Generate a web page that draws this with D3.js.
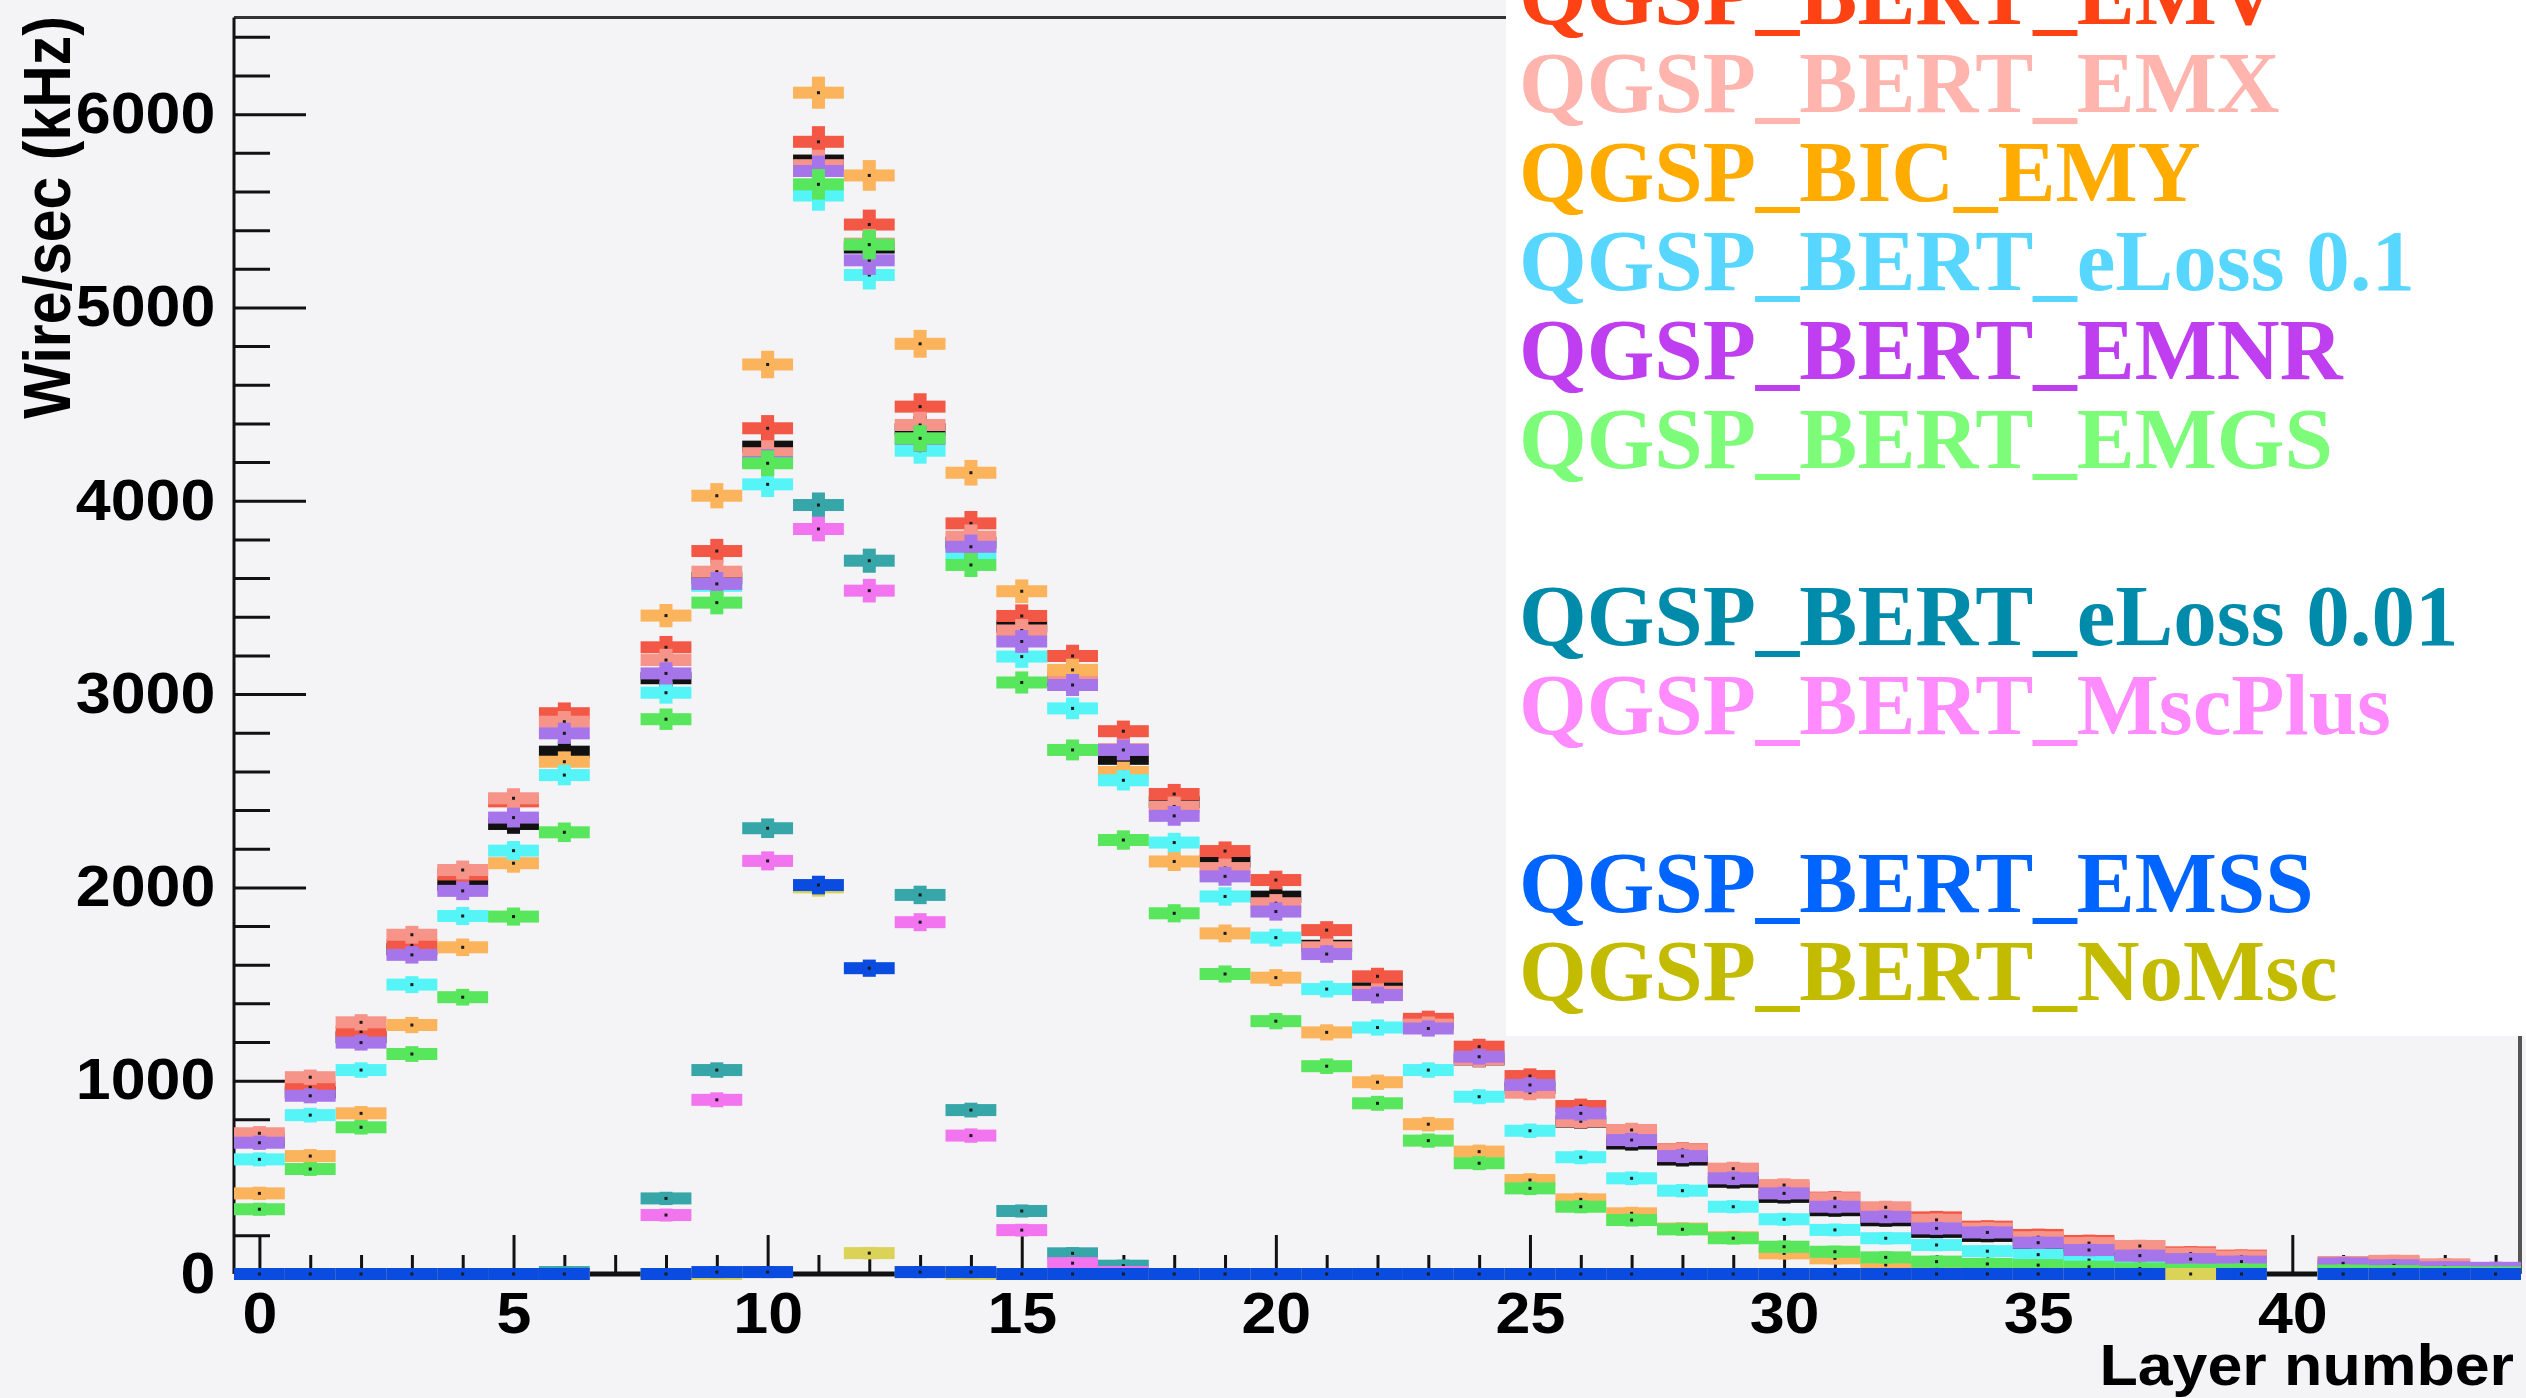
<!DOCTYPE html>
<html>
<head>
<meta charset="utf-8">
<script src="https://cdn.jsdelivr.net/npm/d3@7"></script>
<style>
  body { margin: 0; background: #f4f3f6; }
  text { font-family: "Liberation Sans", Arial, sans-serif; font-weight: bold; }
  .legend text { font-family: "Liberation Serif", "Times New Roman", serif; }
</style>
</head>
<body>
<div id="chart"></div>
<script>
// layer numbers 0..44, null = dead layer / no entry
const layers = d3.range(0, 45);

const bert     = [690, 940, 1225, 1680, 2014, 2328, 2702, null, 3082, 3600, 4280, 5760, 5310, 4370, 3783, 3349, 3070, 2665, 2440, 2134, 1952, 1698, 1478, 1300, 1110, 962, 788, 675, 592, 477, 399, 330, 278, 218, 197, 145, 108, 80, 62, 50, null, 40, 30, 25, 20];
const emv      = [705, 966, 1254, 1702, 2067, 2445, 2901, null, 3242, 3740, 4375, 5857, 5429, 4487, 3883, 3404, 3197, 2808, 2483, 2188, 2038, 1779, 1540, 1320, 1176, 1024, 869, 736, 645, 542, 448, 395, 340, 293, 245, 202, 171, 142, 112, 95, null, 60, 64, 46, 30];
const emx      = [728, 1018, 1302, 1755, 2090, 2461, 2857, null, 3176, 3633, 4246, 5736, 5330, 4392, 3814, 3329, 3091, 2715, 2418, 2100, 1918, 1690, 1460, 1290, 1110, 938, 790, 745, 641, 545, 460, 392, 345, 280, 235, 190, 160, 145, 105, 90, null, 62, 68, 50, 28];
const emy      = [417, 610, 831, 1288, 1690, 2125, 2650, null, 3406, 4026, 4705, 6111, 5683, 4812, 4145, 3532, 3125, 2597, 2134, 1762, 1533, 1250, 992, 775, 633, 486, 386, 314, 235, 190, 107, 81, 47, 35, 25, 18, 12, 8, 5, 4, null, 2, 2, 1, 1];
const eloss01  = [593, 822, 1055, 1497, 1852, 2190, 2581, null, 3007, 3560, 4085, 5579, 5168, 4259, 3725, 3194, 2926, 2554, 2232, 1953, 1740, 1474, 1275, 1055, 917, 741, 604, 495, 431, 348, 283, 228, 185, 150, 118, 100, 72, 52, 37, 32, null, 22, 20, 15, 10];
const emnr     = [679, 922, 1197, 1651, 1982, 2361, 2797, null, 3107, 3570, 4200, 5706, 5244, 4320, 3762, 3272, 3047, 2711, 2370, 2057, 1875, 1655, 1443, 1270, 1124, 978, 831, 693, 610, 495, 417, 348, 296, 236, 215, 162, 124, 95, 77, 64, null, 55, 45, 35, 32];
const emgs     = [335, 543, 759, 1138, 1432, 1849, 2285, null, 2870, 3473, 4194, 5637, 5325, 4323, 3668, 3060, 2711, 2245, 1866, 1552, 1308, 1075, 883, 690, 573, 443, 348, 279, 231, 185, 141, 115, 86, 64, 52, 46, 37, 28, 22, 23, null, 18, 15, 10, 8];
const eloss001 = [0, 0, 0, 0, 0, 0, 10, null, 391, 1055, 2306, 3978, 3690, 1961, 848, 326, 107, 43, 0, 0, 0, 0, 0, 0, 0, 0, 0, 0, 0, 0, 0, 0, 0, 0, 0, 0, 0, 0, 0, 0, null, 0, 0, 0, 0];
const mscplus  = [0, 0, 0, 0, 0, 0, 0, null, 305, 901, 2137, 3854, 3535, 1820, 716, 227, 56, 10, 0, 0, 0, 0, 0, 0, 0, 0, 0, 0, 0, 0, 0, 0, 0, 0, 0, 0, 0, 0, 0, 0, null, 0, 0, 0, 0];
const nomsc    = [0, 0, 0, 0, 0, 0, 0, null, 0, 0, 10, 2000, 108, 10, 0, 0, 0, 0, 0, 0, 0, 0, 0, 0, 0, 0, 0, 0, 0, 0, 0, 0, 0, 0, 0, 0, 0, 0, 0, 0, null, 0, 0, 0, 0];
const emss     = [0, 0, 0, 0, 0, 0, 0, null, 0, 10, 10, 2012, 1582, 10, 10, 0, 0, 0, 0, 0, 0, 0, 0, 0, 0, 0, 0, 0, 0, 0, 0, 0, 0, 0, 0, 0, 0, 0, null, 0, null, 0, 0, 0, 0];

// legend lines as printed (null = empty line)
const legendRows = ["QGSP_BERT_EMV", "QGSP_BERT_EMX", "QGSP_BIC_EMY", "QGSP_BERT_eLoss 0.1",
  "QGSP_BERT_EMNR", "QGSP_BERT_EMGS", null, "QGSP_BERT_eLoss 0.01", "QGSP_BERT_MscPlus",
  null, "QGSP_BERT_EMSS", "QGSP_BERT_NoMsc"];
const legendColors = ["#ff4214", "#ffb4ae", "#ffab00", "#57d7ff", "#bf3ff0", "#7dfc7a", null,
  "#008bab", "#ff8bff", null, "#0064ff", "#c3bb00"];

const xMajor = d3.range(0, 41, 5);
const yMajor = d3.range(0, 6001, 1000);

// drawing order (last on top)
const series = [
  {values: bert, color: "#111111"},
  {values: emv, color: "#f35846"},
  {values: emx, color: "#f6948a"},
  {values: emy, color: "#fbb35c"},
  {values: eloss01, color: "#55f4f6"},
  {values: emnr, color: "#a775ea"},
  {values: emgs, color: "#58e65c"},
  {values: eloss001, color: "#36a6a8"},
  {values: mscplus, color: "#f275ef"},
  {values: nomsc, color: "#dbd258"},
  {values: emss, color: "#0a4be0"}
];

const W = 2526, H = 1398;
const boxH = 12, errW = 13, relErr = 0.0085;

const x = d3.scaleLinear().domain([-0.5, 44.5]).range([234, 2521]);
const y = d3.scaleLinear().domain([0, 6500]).range([1274, 17.5]);

const svg = d3.select("#chart").append("svg")
  .attr("width", W).attr("height", H);

svg.append("rect").attr("width", W).attr("height", H).attr("fill", "#f4f3f6");

// frame + axis lines
svg.append("line").attr("x1", x(-0.5)).attr("x2", x(44.5)).attr("y1", y(6500)).attr("y2", y(6500))
  .attr("stroke", "#333").attr("stroke-width", 3);
svg.append("line").attr("x1", x(44.5) - 1).attr("x2", x(44.5) - 1).attr("y1", y(6500)).attr("y2", y(0))
  .attr("stroke", "#555").attr("stroke-width", 4);
svg.append("line").attr("x1", x(-0.5)).attr("x2", x(44.5)).attr("y1", y(0)).attr("y2", y(0))
  .attr("stroke", "#111").attr("stroke-width", 5);
svg.append("line").attr("x1", x(-0.5)).attr("x2", x(-0.5)).attr("y1", y(6500)).attr("y2", y(0))
  .attr("stroke", "#111").attr("stroke-width", 3);

// ticks (under the markers)
const gx = svg.append("g").attr("transform", `translate(0,${y(0)})`)
  .call(d3.axisBottom(x).tickValues(xMajor).tickSize(-39).tickPadding(19).tickFormat(d3.format("d")));
gx.append("g").call(d3.axisBottom(x).tickValues(layers.filter(d => d % 5 !== 0)).tickSize(-19).tickFormat(""));
gx.selectAll(".domain").remove();
gx.selectAll("line").attr("stroke", "#111").attr("stroke-width", 3);
gx.selectAll("text").attr("font-size", 57).attr("fill", "#000").attr("transform", "scale(1.1,1)");

const gy = svg.append("g").attr("transform", `translate(${x(-0.5)},0)`)
  .call(d3.axisLeft(y).tickValues(yMajor).tickSize(-72).tickPadding(17).tickFormat(d3.format("d")));
gy.append("g").call(d3.axisLeft(y).tickValues(d3.range(200, 6500, 200).filter(d => d % 1000 !== 0)).tickSize(-36).tickFormat(""));
gy.selectAll(".domain").remove();
gy.selectAll("line").attr("stroke", "#111").attr("stroke-width", 3);
gy.selectAll("text").attr("font-size", 57).attr("fill", "#000").attr("transform", "scale(1.1,1)");

// markers: bin-wide box, thick error bar, centre dot
const bw = x(0.5) - x(-0.5);
const marks = svg.append("g");
series.forEach(s => {
  const pts = layers.map((l, i) => ({l: l, v: s.values[i]})).filter(d => d.v !== null);
  const sg = marks.append("g").attr("fill", s.color);
  sg.selectAll("rect.box").data(pts).join("rect").attr("class", "box")
    .attr("x", d => x(d.l - 0.5)).attr("width", bw)
    .attr("y", d => y(d.v) - boxH / 2).attr("height", boxH);
  sg.selectAll("rect.err").data(pts).join("rect").attr("class", "err")
    .attr("x", d => x(d.l) - errW / 2).attr("width", errW)
    .attr("y", d => y(d.v * (1 + relErr)) - boxH / 2)
    .attr("height", d => y(d.v * (1 - relErr)) - y(d.v * (1 + relErr)) + boxH);
  sg.selectAll("rect.dot").data(pts).join("rect").attr("class", "dot")
    .attr("x", d => x(d.l) - 1.5).attr("width", 3)
    .attr("y", d => y(d.v) - 1.5).attr("height", 3)
    .attr("fill", "#1a1a1a");
});

// legend
const leg = svg.append("g").attr("class", "legend");
leg.append("rect").attr("x", 1506).attr("y", 0).attr("width", W - 1506).attr("height", 1036).attr("fill", "#ffffff");
leg.selectAll("text").data(legendRows.map((t, i) => ({t: t, i: i})).filter(d => d.t !== null))
  .join("text")
  .attr("x", 1519).attr("y", d => 23.5 + 88.8 * d.i)
  .attr("font-size", 87)
  .attr("fill", d => legendColors[d.i])
  .text(d => d.t);

// axis titles
svg.append("text")
  .attr("transform", "translate(2514,1385) scale(1.1,1)")
  .attr("text-anchor", "end").attr("font-size", 57).attr("fill", "#000")
  .text("Layer number");

svg.append("text")
  .attr("transform", "translate(70,16) rotate(-90) scale(1,1.12)")
  .attr("text-anchor", "end").attr("font-size", 59).attr("fill", "#000")
  .text("Wire/sec (kHz)");
</script>
</body>
</html>
